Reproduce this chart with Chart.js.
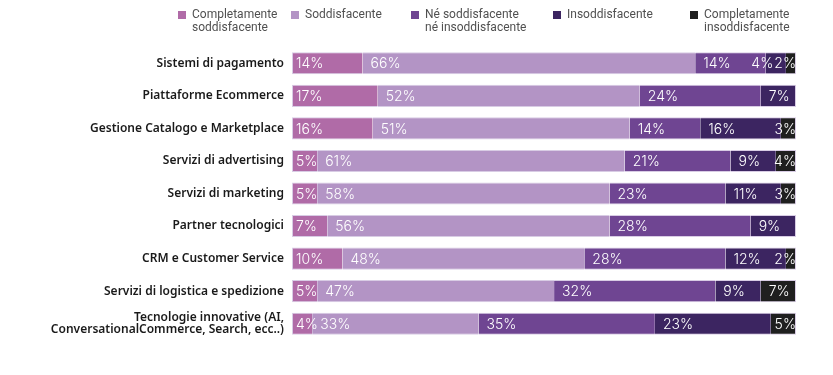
<!DOCTYPE html>
<html>
<head>
<meta charset="utf-8">
<script src="https://cdn.jsdelivr.net/npm/chart.js@4"></script>
<style>
  body { margin: 0; background: #fff; }
  #wrap { width: 833px; height: 375px; }
</style>
</head>
<body>
<div id="wrap"><canvas id="chart"></canvas></div>
<script>
const categories = [
  "Sistemi di pagamento",
  "Piattaforme Ecommerce",
  "Gestione Catalogo e Marketplace",
  "Servizi di advertising",
  "Servizi di marketing",
  "Partner tecnologici",
  "CRM e Customer Service",
  "Servizi di logistica e spedizione",
  ["Tecnologie innovative (AI,", "ConversationalCommerce, Search, ecc..)"]
];

const seriesNames = [
  ["Completamente", "soddisfacente"],
  ["Soddisfacente"],
  ["Né soddisfacente", "né insoddisfacente"],
  ["Insoddisfacente"],
  ["Completamente", "insoddisfacente"]
];

const completamenteSodd = [14, 17, 16, 5, 5, 7, 10, 5, 4];
const soddisfacente = [66, 52, 51, 61, 58, 56, 48, 47, 33];
const neSoddNeInsodd = [14, 24, 14, 21, 23, 28, 28, 32, 35];
const insoddisfacente = [4, 7, 16, 9, 11, 9, 12, 9, 23];
const completamenteInsodd = [2, 0, 3, 4, 3, 0, 2, 7, 5];

const colors = ["#b06ba7", "#b394c5", "#6f4592", "#3c2561", "#1f1f1f"];
const legendX = [178, 291, 411, 553, 690];

const allSeries = [completamenteSodd, soddisfacente, neSoddNeInsodd, insoddisfacente, completamenteInsodd];

// legend drawn by hand because of the two-line labels
const legendPlugin = {
  id: "topLegend",
  afterDraw(chart) {
    const ctx = chart.ctx;
    ctx.save();
    ctx.font = "12px Roboto";
    ctx.textAlign = "left";
    ctx.textBaseline = "middle";
    seriesNames.forEach((lines, i) => {
      const x = legendX[i];
      ctx.fillStyle = colors[i];
      ctx.fillRect(x, 11, 8, 8);
      ctx.fillStyle = "#505050";
      lines.forEach((line, j) => {
        ctx.fillText(line, x + 14, 15 + j * 12.5);
      });
    });
    ctx.restore();
  }
};

// percent labels inside segments, pushed left when they would run over
const valueLabels = {
  id: "valueLabels",
  afterDatasetsDraw(chart) {
    const ctx = chart.ctx;
    ctx.save();
    ctx.font = "300 14px Inter";
    ctx.fillStyle = "#fff";
    ctx.textAlign = "left";
    ctx.textBaseline = "middle";
    const xs = chart.scales.x;
    const right = xs.getPixelForValue(100);
    categories.forEach((c, row) => {
      let limit = right;
      for (let d = allSeries.length - 1; d >= 0; d--) {
        const v = allSeries[d][row];
        if (!v) continue;
        let cum = 0;
        for (let k = 0; k < d; k++) cum += allSeries[k][row];
        const start = xs.getPixelForValue(cum);
        const bar = chart.getDatasetMeta(d).data[row];
        const txt = v + "%";
        const w = ctx.measureText(txt).width;
        let x = start + (d === 0 ? 4 : 8);
        if (x + w > limit) x = limit - w;
        ctx.fillText(txt, x, bar.y + 1);
        limit = x - 1;
      }
    });
    ctx.restore();
  }
};

new Chart(document.getElementById("chart"), {
  type: "bar",
  data: {
    labels: categories,
    datasets: allSeries.map((values, i) => ({
      label: seriesNames[i].join(" "),
      data: values,
      backgroundColor: colors[i],
      borderColor: "rgba(216,204,228,1)",
      borderWidth: 1,
      borderSkipped: "middle",
      barPercentage: 0.68,
      categoryPercentage: 1
    }))
  },
  options: {
    indexAxis: "y",
    responsive: true,
    maintainAspectRatio: false,
    animation: false,
    layout: { padding: { top: 47, bottom: 35, right: 37, left: 0 } },
    plugins: {
      legend: { display: false },
      tooltip: { enabled: false }
    },
    scales: {
      x: {
        stacked: true,
        min: 0,
        max: 100,
        display: false
      },
      y: {
        stacked: true,
        grid: { display: false, drawTicks: false },
        border: { display: false },
        afterFit(scale) { scale.width = 292; },
        ticks: {
          padding: 8,
          color: "#1a1a1a",
          font: { family: "Noto Sans", size: 12, weight: "600", lineHeight: 0.95 }
        }
      }
    }
  },
  plugins: [legendPlugin, valueLabels]
});
</script>
</body>
</html>
